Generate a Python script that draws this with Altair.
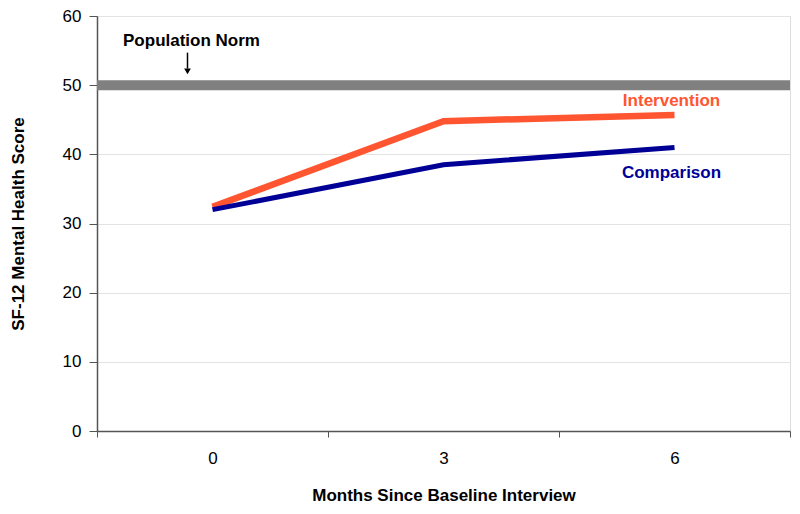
import altair as alt
import pandas as pd

months = ["0", "3", "6"]
intervention = [32.4, 44.8, 45.7]
comparison = [32.0, 38.5, 41.0]
population_norm = 50

df = pd.DataFrame({
    "month": months * 2,
    "score": intervention + comparison,
    "group": ["Intervention"] * 3 + ["Comparison"] * 3,
})

FONT = "Liberation Sans"
FS = 17
W, H = 693, 415

xscale = alt.Scale(domain=months, type="band", paddingInner=0, paddingOuter=0)
yscale = alt.Scale(domain=[0, 60], nice=False)

xenc = alt.X("month:N", scale=xscale, sort=months,
             axis=alt.Axis(title="Months Since Baseline Interview", labelAngle=0,
                           tickBand="extent", tickSize=6, labelPadding=13,
                           labelFontSize=FS, labelFont=FONT, labelColor="#000",
                           titleFont=FONT, titleFontSize=FS, titleFontWeight="bold",
                           titleColor="#000", titlePadding=21, domainColor="#555",
                           tickColor="#555", grid=False, domainWidth=1.5))
yenc = alt.Y("score:Q", scale=yscale,
             axis=alt.Axis(title="SF-12 Mental Health Score", values=[0, 10, 20, 30, 40, 50, 60],
                           tickSize=8, labelPadding=8, labelFontSize=FS, labelFont=FONT,
                           labelColor="#000", titleFont=FONT, titleFontSize=FS,
                           titleFontWeight="bold", titleColor="#000",
                           titleX=-79, titleY=H / 2, titleBaseline="middle",
                           domainColor="#555", tickColor="#555", domainWidth=1.5,
                           gridColor="#e3e3e3", gridWidth=1))

lines = alt.Chart(df).mark_line(strokeCap="butt").encode(
    x=xenc,
    y=yenc,
    color=alt.Color("group:N", scale=alt.Scale(domain=["Intervention", "Comparison"],
                                               range=["#ff5530", "#000096"]), legend=None),
    strokeWidth=alt.StrokeWidth("group:N", scale=alt.Scale(domain=["Intervention", "Comparison"],
                                                           range=[6.5, 5]), legend=None),
    order=alt.Order("group:N", sort="ascending"),
)

norm_df = pd.DataFrame({"y": [population_norm]})
norm = alt.Chart(norm_df).mark_rule(color="#808080", strokeWidth=10).encode(y=alt.Y("y:Q", scale=yscale))

lab_df = pd.DataFrame({
    "month": ["6", "6", "0"],
    "y": [47.7, 37.3, 56.4],
    "text": ["Intervention", "Comparison", "Population Norm"],
})
lab_int = alt.Chart(lab_df.iloc[[0]]).mark_text(font=FONT, fontSize=FS, fontWeight="bold",
                                                  color="#ff5530", dx=-3).encode(
    x=alt.X("month:N", scale=xscale), y=alt.Y("y:Q", scale=yscale), text="text:N")
lab_cmp = alt.Chart(lab_df.iloc[[1]]).mark_text(font=FONT, fontSize=FS, fontWeight="bold",
                                                  color="#000096", dx=-3).encode(
    x=alt.X("month:N", scale=xscale), y=alt.Y("y:Q", scale=yscale), text="text:N")
lab_pop = alt.Chart(lab_df.iloc[[2]]).mark_text(font=FONT, fontSize=FS, fontWeight="bold",
                                                  color="#000000", dx=-21).encode(
    x=alt.X("month:N", scale=xscale), y=alt.Y("y:Q", scale=yscale), text="text:N")

arrow_df = pd.DataFrame({"month": ["0"], "y1": [54.7], "y2": [52.4], "tip": [52.0]})
arrow_line = alt.Chart(arrow_df).mark_rule(color="#000", strokeWidth=1.5, xOffset=-25).encode(
    x=alt.X("month:N", scale=xscale), y=alt.Y("y1:Q", scale=yscale), y2="y2:Q")
arrow_head = alt.Chart(arrow_df).mark_point(shape="triangle-down", filled=True, color="#000",
                                             size=45, opacity=1, xOffset=-25).encode(
    x=alt.X("month:N", scale=xscale), y=alt.Y("tip:Q", scale=yscale))

chart = alt.layer(norm, lines, lab_int, lab_cmp, lab_pop, arrow_line, arrow_head).properties(
    width=W, height=H,
    autosize=alt.AutoSizeParams(type="none"),
    padding={"left": 89, "top": 8, "right": 2, "bottom": 75},
).configure_view(stroke="#333", strokeWidth=1.5).configure(background="white")

chart.save("out.html", embed_options={"renderer": "svg", "actions": False})
